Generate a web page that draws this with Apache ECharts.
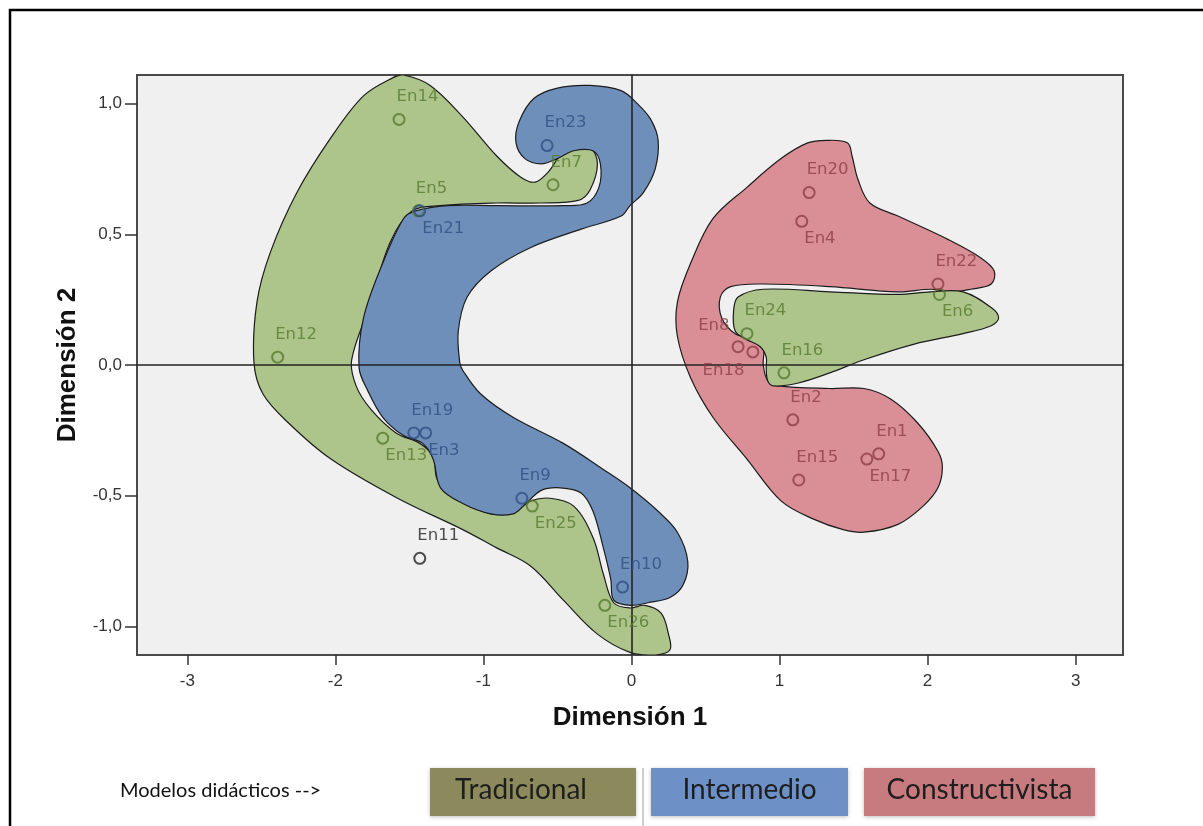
<!DOCTYPE html>
<html>
<head>
<meta charset="utf-8">
<title>Modelos didácticos</title>
<script src="https://cdn.jsdelivr.net/npm/echarts@6/dist/echarts.min.js"></script>
<style>
html, body { margin: 0; padding: 0; width: 100%; height: 100%; background: #fff; overflow: hidden; }
#main { width: 1203px; height: 826px; }
</style>
</head>
<body>
<div id="main"></div>
<script>
// grupos (modelos didácticos)
var modelos = ['Tradicional', 'Intermedio', 'Constructivista'];

// puntos de cada grupo: nombre, dimensión 1, dimensión 2
var tradNames = ['En14', 'En7', 'En5', 'En12', 'En13', 'En25', 'En26', 'En24', 'En6', 'En16'];
var tradDim1 = [-1.57, -0.53, -1.44, -2.39, -1.68, -0.67, -0.18, 0.78, 2.08, 1.03];
var tradDim2 = [0.94, 0.69, 0.59, 0.03, -0.28, -0.54, -0.92, 0.12, 0.27, -0.03];

var interNames = ['En23', 'En21', 'En19', 'En3', 'En9', 'En10'];
var interDim1 = [-0.57, -1.43, -1.47, -1.39, -0.74, -0.06];
var interDim2 = [0.84, 0.59, -0.26, -0.26, -0.51, -0.85];

var constNames = ['En20', 'En4', 'En22', 'En8', 'En18', 'En2', 'En15', 'En1', 'En17'];
var constDim1 = [1.20, 1.15, 2.07, 0.72, 0.82, 1.09, 1.13, 1.67, 1.59];
var constDim2 = [0.66, 0.55, 0.31, 0.07, 0.05, -0.21, -0.44, -0.34, -0.36];

var otherNames = ['En11'];
var otherDim1 = [-1.43];
var otherDim2 = [-0.74];

// contornos dibujados a mano alrededor de cada grupo (dimensión 1, dimensión 2)
var outlineTradA = [
    [-1.54, 1.11], [-1.36, 1.07], [-1.14, 0.95], [-0.91, 0.80], [-0.75, 0.72], [-0.65, 0.70],
    [-0.56, 0.74], [-0.45, 0.82], [-0.28, 0.83], [-0.23, 0.77], [-0.28, 0.67], [-0.36, 0.63],
    [-0.61, 0.62], [-0.91, 0.62], [-1.29, 0.61], [-1.48, 0.59], [-1.63, 0.47], [-1.76, 0.24],
    [-1.89, 0.02], [-1.86, -0.08], [-1.76, -0.17], [-1.59, -0.26], [-1.43, -0.30], [-1.34, -0.35],
    [-1.31, -0.44], [-1.18, -0.51], [-0.95, -0.57], [-0.80, -0.56], [-0.68, -0.52], [-0.55, -0.51],
    [-0.39, -0.54], [-0.26, -0.66], [-0.19, -0.80], [-0.12, -0.91], [-0.01, -0.93], [0.09, -0.92],
    [0.20, -0.95], [0.25, -1.03], [0.26, -1.09], [0.16, -1.11], [-0.01, -1.10], [-0.23, -1.03],
    [-0.46, -0.90], [-0.68, -0.77], [-0.91, -0.70], [-1.14, -0.63], [-1.58, -0.51], [-2.03, -0.36],
    [-2.32, -0.22], [-2.49, -0.11], [-2.55, 0.01], [-2.53, 0.24], [-2.44, 0.43], [-2.26, 0.66],
    [-2.03, 0.87], [-1.81, 1.03], [-1.61, 1.10]
];
var outlineTradB = [
    [0.72, 0.26], [0.89, 0.29], [1.34, 0.28], [1.80, 0.27], [2.02, 0.28], [2.24, 0.28],
    [2.43, 0.22], [2.48, 0.18], [2.43, 0.15], [2.24, 0.12], [1.91, 0.08], [1.57, 0.02],
    [1.34, -0.03], [1.12, -0.07], [0.96, -0.08], [0.92, -0.06], [0.91, -0.01], [0.91, 0.03],
    [0.87, 0.07], [0.77, 0.10], [0.70, 0.13], [0.69, 0.21]
];
var outlineInter = [
    [-1.46, 0.59], [-1.24, 0.61], [-0.91, 0.61], [-0.46, 0.61], [-0.30, 0.62], [-0.22, 0.68],
    [-0.21, 0.77], [-0.26, 0.82], [-0.39, 0.82], [-0.50, 0.79], [-0.61, 0.77], [-0.72, 0.79],
    [-0.78, 0.85], [-0.76, 0.93], [-0.66, 1.02], [-0.50, 1.06], [-0.28, 1.07], [-0.07, 1.05],
    [0.04, 1.00], [0.13, 0.94], [0.18, 0.86], [0.16, 0.75], [0.08, 0.66], [-0.01, 0.61],
    [-0.07, 0.57], [-0.34, 0.52], [-0.68, 0.45], [-0.95, 0.36], [-1.11, 0.26], [-1.17, 0.13],
    [-1.16, 0.01], [-1.14, -0.02], [-1.02, -0.11], [-0.80, -0.20], [-0.46, -0.30], [-0.19, -0.40],
    [-0.01, -0.47], [0.18, -0.56], [0.31, -0.64], [0.38, -0.75], [0.35, -0.84], [0.26, -0.89],
    [0.11, -0.91], [-0.01, -0.92], [-0.12, -0.90], [-0.14, -0.82], [-0.19, -0.70], [-0.26, -0.56],
    [-0.34, -0.49], [-0.48, -0.47], [-0.61, -0.48], [-0.73, -0.54], [-0.80, -0.57], [-0.95, -0.57],
    [-1.14, -0.53], [-1.29, -0.47], [-1.34, -0.36], [-1.41, -0.30], [-1.54, -0.27], [-1.68, -0.20],
    [-1.78, -0.10], [-1.84, -0.01], [-1.81, 0.18], [-1.68, 0.39], [-1.54, 0.56]
];
var outlineConst = [
    [1.19, 0.85], [1.32, 0.86], [1.46, 0.85], [1.49, 0.80], [1.53, 0.71], [1.61, 0.62],
    [1.80, 0.57], [2.14, 0.48], [2.36, 0.41], [2.45, 0.36], [2.43, 0.31], [2.29, 0.29],
    [2.16, 0.28], [2.02, 0.29], [1.80, 0.28], [1.34, 0.30], [0.89, 0.31], [0.67, 0.30],
    [0.60, 0.26], [0.61, 0.18], [0.70, 0.12], [0.82, 0.10], [0.89, 0.07], [0.89, 0.00],
    [0.92, -0.06], [0.99, -0.08], [1.34, -0.09], [1.57, -0.09], [1.75, -0.13], [1.93, -0.22],
    [2.07, -0.33], [2.10, -0.39], [2.07, -0.47], [1.97, -0.54], [1.80, -0.61], [1.57, -0.64],
    [1.43, -0.63], [1.23, -0.59], [1.01, -0.52], [0.78, -0.36], [0.55, -0.20], [0.40, -0.05],
    [0.31, 0.11], [0.31, 0.24], [0.40, 0.39], [0.55, 0.56], [0.78, 0.68], [1.01, 0.79]
];

// marcas de los ejes
var xTicks = [-3, -2, -1, 0, 1, 2, 3];
var yTicks = [-1, -0.5, 0, 0.5, 1];

// dónde va la etiqueta de cada punto
var labelSide = {
    En21: 'br', En13: 'br', En3: 'br', En25: 'br', En26: 'br', En4: 'br', En6: 'br', En17: 'br',
    En8: 'tl', En18: 'bl'
};
var labelPlace = {
    tr: { position: [4, -16], align: 'left' },
    br: { position: [9, 24], align: 'left' },
    tl: { position: [-2, -14], align: 'right' },
    bl: { position: [-2, 25], align: 'right' }
};

var fills = { Tradicional: '#adc48b', Intermedio: '#6f8fbb', Constructivista: '#d98f95' };
var inks = { Tradicional: '#587a30', Intermedio: '#2e4f82', Constructivista: '#8c3c45', Otro: '#222222' };
var boxColors = { Tradicional: '#8c8a5c', Intermedio: '#6d91c6', Constructivista: '#c87b7f' };

function blobSeries(outline, fill, z) {
    return {
        type: 'custom',
        coordinateSystem: 'cartesian2d',
        clip: true,
        silent: true,
        z: z,
        data: [[0, 0]],
        renderItem: function (params, api) {
            var pts = outline.map(function (p) { return api.coord(p); });
            return {
                type: 'polygon',
                shape: { points: pts, smooth: 0.35 },
                style: { fill: fill, stroke: '#1c1c1c', lineWidth: 1.2 }
            };
        }
    };
}

function pointSeries(name, names, d1, d2, color) {
    return {
        name: name,
        type: 'scatter',
        z: 10,
        symbol: 'circle',
        symbolSize: 11,
        itemStyle: { color: 'rgba(0,0,0,0)', borderColor: color, borderWidth: 2 },
        label: {
            show: true,
            formatter: '{b}',
            color: color,
            fontFamily: 'DejaVu Sans',
            fontSize: 16.5,
            verticalAlign: 'middle'
        },
        emphasis: { disabled: true },
        data: names.map(function (n, i) {
            var p = labelPlace[labelSide[n] || 'tr'];
            return {
                name: n,
                value: [d1[i], d2[i]],
                label: { position: p.position, align: p.align }
            };
        })
    };
}

function fmtY(v) {
    return v.toFixed(1).replace('.', ',');
}

var chart = echarts.init(document.getElementById('main'));

var legendGraphics = [];
var boxX = [430, 651, 864];
var boxW = [206, 197, 231];
modelos.forEach(function (m, i) {
    legendGraphics.push({
        type: 'rect',
        silent: true,
        shape: { x: boxX[i], y: 768, width: boxW[i], height: 48 },
        style: { fill: boxColors[m], shadowBlur: 4, shadowColor: 'rgba(0,0,0,0.25)', shadowOffsetY: 1 }
    });
    legendGraphics.push({
        type: 'text',
        silent: true,
        x: boxX[i] + boxW[i] / 2 - (i === 0 ? 12 : 0),
        y: 790,
        style: {
            text: m,
            font: '28px Lato',
            fill: '#1e1e1e',
            align: 'center',
            verticalAlign: 'middle'
        }
    });
});

var option = {
    backgroundColor: '#ffffff',
    animation: false,
    grid: {
        left: 137, top: 75, right: 80, bottom: 171,
        show: true,
        backgroundColor: '#f0f0f0',
        borderColor: '#4a4a4a',
        borderWidth: 2
    },
    xAxis: {
        type: 'value',
        min: -3.34,
        max: 3.32,
        name: 'Dimensión 1',
        nameLocation: 'middle',
        nameGap: 50,
        nameTextStyle: { fontFamily: 'Liberation Sans', fontWeight: 'bold', fontSize: 26, color: '#111' },
        axisLine: { show: false, onZero: false },
        splitLine: { show: false },
        axisTick: { show: true, inside: false, length: 10, lineStyle: { color: '#333', width: 1.5 }, customValues: xTicks },
        axisLabel: {
            customValues: xTicks,
            margin: 18,
            fontFamily: 'Liberation Sans',
            fontSize: 17,
            color: '#333',
            formatter: function (v) { return String(v); }
        }
    },
    yAxis: {
        type: 'value',
        min: -1.11,
        max: 1.11,
        name: 'Dimensión 2',
        nameLocation: 'middle',
        nameGap: 56,
        nameRotate: 90,
        nameTextStyle: { fontFamily: 'Liberation Sans', fontWeight: 'bold', fontSize: 26, color: '#111' },
        axisLine: { show: false, onZero: false },
        splitLine: { show: false },
        axisTick: { show: true, inside: false, length: 12, lineStyle: { color: '#333', width: 1.5 }, customValues: yTicks },
        axisLabel: {
            customValues: yTicks,
            margin: 15,
            fontFamily: 'Liberation Sans',
            fontSize: 17,
            color: '#333',
            formatter: fmtY
        }
    },
    series: [
        blobSeries(outlineTradA, fills.Tradicional, 1),
        blobSeries(outlineInter, fills.Intermedio, 2),
        blobSeries(outlineConst, fills.Constructivista, 3),
        blobSeries(outlineTradB, fills.Tradicional, 4),
        {
            type: 'line',
            data: [],
            z: 6,
            silent: true,
            markLine: {
                silent: true,
                symbol: 'none',
                label: { show: false },
                lineStyle: { color: '#222', width: 1.6, type: 'solid' },
                data: [{ xAxis: 0 }, { yAxis: 0 }]
            }
        },
        pointSeries('Tradicional', tradNames, tradDim1, tradDim2, inks.Tradicional),
        pointSeries('Intermedio', interNames, interDim1, interDim2, inks.Intermedio),
        pointSeries('Constructivista', constNames, constDim1, constDim2, inks.Constructivista),
        pointSeries('Otro', otherNames, otherDim1, otherDim2, inks.Otro)
    ],
    graphic: [
        {
            type: 'rect',
            silent: true,
            shape: { x: 10, y: 10, width: 1300, height: 900 },
            style: { fill: 'none', stroke: '#000', lineWidth: 2.5 }
        },
        {
            type: 'line',
            silent: true,
            shape: { x1: 643, y1: 768, x2: 643, y2: 826 },
            style: { stroke: '#bdbdbd', lineWidth: 1.5 }
        },
        {
            type: 'text',
            silent: true,
            x: 120,
            y: 791,
            style: {
                text: 'Modelos didácticos -->',
                font: '20px Lato',
                fill: '#111',
                verticalAlign: 'middle'
            }
        }
    ].concat(legendGraphics)
};

chart.setOption(option);

window.addEventListener('resize', function () {
    chart.resize();
});
</script>
</body>
</html>
